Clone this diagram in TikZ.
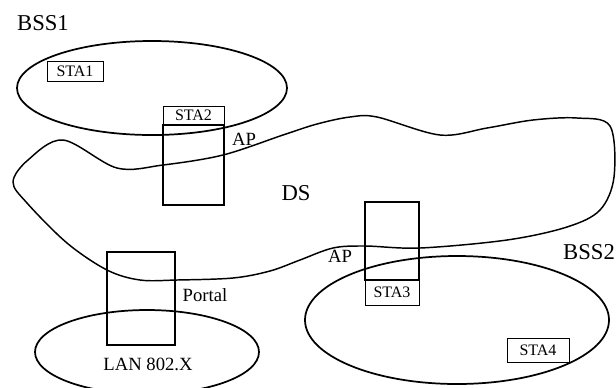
\documentclass[tikz,border=0pt]{standalone}
\usepackage{fontspec}
\setmainfont{Liberation Serif}
\tikzset{
    stabox/.style={draw, line width=0.7pt, inner sep=0pt, font=\fontsize{12}{12}\selectfont},
    apbox/.style={draw, line width=1.3pt},
    area/.style={line width=1.3pt},
    lbl/.style={inner sep=0pt, font=\fontsize{14}{14}\selectfont},
    biglbl/.style={inner sep=0pt, font=\fontsize{17}{17}\selectfont}
}
\begin{document}
\begin{tikzpicture}[x=0.75pt, y=-0.75pt]
    \useasboundingbox (0,0) rectangle (616,387);
    % BSS1, LAN and BSS2 areas
    \draw[area] (152,88) ellipse [x radius=101.25pt, y radius=35.25pt];
    \draw[area] (147,352) ellipse [x radius=84pt, y radius=31.5pt];
    \draw[area] (457,320) ellipse [x radius=114pt, y radius=48pt];
    % Distribution system outline
    \draw[line width=1.1pt] plot[smooth cycle, tension=0.55] coordinates {
        (63,140) (117,168) (163,165) (223,155) (283,135) (317,124)
        (350,117) (377,117) (440,135) (487,128) (533,120) (577,118)
        (610,126) (614,177) (600,210) (567,227) (507,240) (420,248)
        (365,246) (333,248) (300,260) (270,271) (233,278) (177,280)
        (140,280) (107,270) (67,243) (27,203) (13,182) (28,160)};
    % Access points and portal
    \draw[apbox] (163,125) rectangle (224,205);
    \draw[apbox] (365,202) rectangle (419,280);
    \draw[apbox] (107,252) rectangle (175,345);
    % Stations
    \node[stabox, minimum width=42pt, minimum height=15pt] (sta1) at (75,71) {STA1};
    \node[stabox, minimum width=45.75pt, minimum height=14.25pt] (sta2) at (193.5,115.5) {STA2};
    \node[stabox, minimum width=40.5pt, minimum height=18.75pt] (sta3) at (392,292.5) {STA3};
    \node[stabox, minimum width=46.5pt, minimum height=18pt] (sta4) at (538,350) {STA4};
    % Labels
    \node[biglbl] (bss1) at (43,23) {BSS1};
    \node[biglbl] (bss2) at (589,252) {BSS2};
    \node[biglbl] (ds) at (296,193) {DS};
    \node[lbl] (ap1) at (244,139) {AP};
    \node[lbl] (ap2) at (340,256) {AP};
    \node[lbl] (portal) at (205,295) {Portal};
    \node[lbl] (lan) at (148,364) {LAN 802.X};
\end{tikzpicture}
\end{document}
